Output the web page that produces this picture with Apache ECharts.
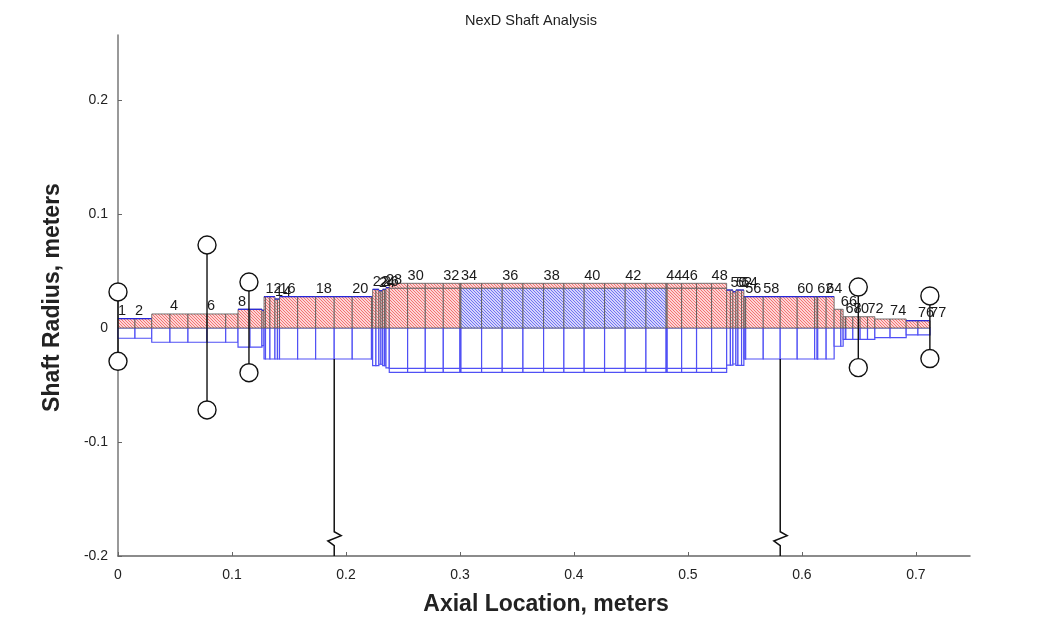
<!DOCTYPE html>
<html style="height: 100%">

<head>
    <meta charset="UTF-8">
    <script type="text/javascript" src="https://cdn.jsdelivr.net/npm/echarts@6.0.0/dist/echarts.min.js"></script>
</head>

<body style="height: 100%; margin: 0; background: #fff">
    <div id="container" style="width: 1062px; height: 626px"></div>

    <script type="text/javascript">
    // stations along the shaft, meters
    var stationX = [0, .0149, .0296, .0456, .0614, .0781, .0945, .1053, .1158, .1263,
        .1281, .1294, .1333, .1377, .1399, .1417, .1576, .1734, .1897, .2055,
        .2224, .2234, .2263, .2289, .2307, .2322, .2338, .2351, .2380, .2541,
        .2696, .2854, .3000, .3009, .3190, .3371, .3553, .3734, .3912, .4090,
        .4269, .4450, .4632, .4809, .4818, .4945, .5076, .5208, .5340, .5373,
        .5395, .5421, .5439, .5471, .5491, .5503, .5507, .5661, .5810, .5959,
        .6112, .6134, .6139, .6213, .6283, .6342, .6362, .6382, .6386, .6447,
        .6511, .6576, .6640, .6774, .6915, .7018, .7125];
    // radius of each element (element n runs from station n to n+1)
    var upperRadius = [.0082, .0082, .0123, .0123, .0123, .0123, .0123, .0164, .0164, .0155,
        .0275, .0275, .0275, .0254, .0254, .0275, .0275, .0275, .0275, .0275,
        .0275, .0339, .0339, .0327, .0327, .0339, .0339, .0354, .0348, .0348,
        .0348, .0348, .0348, .0348, .0348, .0348, .0348, .0348, .0348, .0348,
        .0348, .0348, .0348, .0348, .0348, .0348, .0348, .0348, .0333, .0333,
        .0318, .0333, .0333, .0333, .0275, .0275, .0275, .0275, .0275, .0275,
        .0275, .0275, .0275, .0275, .0164, .0164, .0099, .0099, .0099, .0099,
        .0099, .0099, .0079, .0079, .0064, .0064];
    var lowerRadius = [-.009, -.009, -.0125, -.0125, -.0125, -.0125, -.0125, -.0167, -.0167, -.0155,
        -.0272, -.0272, -.0272, -.0272, -.0272, -.0272, -.0272, -.0272, -.0272, -.0272,
        -.0272, -.033, -.033, -.0318, -.0318, -.033, -.033, -.0349, -.0354, -.0354,
        -.0354, -.0354, -.0354, -.0354, -.0354, -.0354, -.0354, -.0354, -.0354, -.0354,
        -.0354, -.0354, -.0354, -.0354, -.0354, -.0354, -.0354, -.0354, -.0325, -.0325,
        -.0316, -.0328, -.0328, -.0328, -.0272, -.0272, -.0272, -.0272, -.0272, -.0272,
        -.0272, -.0272, -.0272, -.0272, -.016, -.016, -.0099, -.0099, -.0099, -.0099,
        -.0099, -.0099, -.0085, -.0085, -.0061, -.0061];
    // rotor section, element numbers
    var sleeveElements = [29, 30, 31, 32, 33, 34, 35, 36, 37, 38, 39, 40, 41, 42, 43, 44, 45, 46, 47, 48];
    var sleeveUpper = .0392;
    var sleeveLower = -.0389;
    var secondMaterial = [34, 35, 36, 37, 38, 39, 40, 41, 42, 43];
    var blueTopElements = [1, 2, 8, 9, 10, 11, 12, 13, 14, 15, 16, 17, 18, 19, 20, 21, 22, 23, 24, 25, 26, 27, 28,
        49, 50, 51, 52, 53, 54, 55, 56, 57, 58, 59, 60, 61, 62, 63, 64, 75, 76];
    var stationLabels = [1, 2, 4, 6, 8, 12, 14, 16, 18, 20, 22, 24, 26, 28, 30, 32, 34, 36, 38, 40, 42,
        44, 46, 48, 50, 52, 54, 56, 58, 60, 62, 64, 66, 68, 70, 72, 74, 76, 77];
    // bearings
    var bearingX = [0, .0781, .1149, .6495, .7123];
    var bearingTop = [.0316, .0728, .0403, .0359, .0281];
    var bearingBottom = [-.0292, -.0719, -.0392, -.0348, -.0268];
    // ground supports with the break mark
    var supportX = [.1897, .5810];
    var supportTop = -.0272;
    var breakY = [-.1787, -.1822, -.1868, -.1909, -.2];
    var breakDx = [0, .0061, -.0056, 0, 0];
    var ticksX = [0, .1, .2, .3, .4, .5, .6, .7];
    var ticksY = [-.2, -.1, 0, .1, .2];

    function makeHatch(color) {
        var c = document.createElement('canvas');
        c.width = 3;
        c.height = 3;
        var ctx = c.getContext('2d');
        ctx.fillStyle = '#fff';
        ctx.fillRect(0, 0, 3, 3);
        ctx.strokeStyle = color;
        ctx.lineWidth = 1.1;
        ctx.beginPath();
        ctx.moveTo(-1, -1);
        ctx.lineTo(4, 4);
        ctx.moveTo(-1, 2);
        ctx.lineTo(1, 4);
        ctx.moveTo(2, -1);
        ctx.lineTo(4, 1);
        ctx.stroke();
        return { image: c, repeat: 'repeat' };
    }
    var redHatch = makeHatch('#f46c6c');
    var blueHatch = makeHatch('#6c6cf2');

    function box(api, x0, x1, y0, y1, style) {
        var a = api.coord([x0, y0]);
        var b = api.coord([x1, y1]);
        return {
            type: 'rect',
            shape: { x: a[0], y: Math.min(a[1], b[1]), width: b[0] - a[0], height: Math.abs(b[1] - a[1]) },
            style: style
        };
    }

    var elementIds = upperRadius.map(function (r, i) { return [i]; });
    var blueLine = { fill: '#fff', stroke: '#5050f5', lineWidth: 1.2 };
    var darkLine = '#555';

    var myChart = echarts.init(document.getElementById('container'));
    var option = {
        animation: false,
        textStyle: { fontFamily: 'Liberation Sans' },
        title: {
            text: 'NexD Shaft Analysis',
            left: 'center',
            top: 8,
            textStyle: { fontSize: 14.5, fontWeight: 'normal', color: '#222', fontFamily: 'Liberation Sans' }
        },
        grid: { left: 118, right: 92, top: 35, bottom: 70 },
        xAxis: {
            type: 'value',
            min: 0,
            max: .7475,
            name: 'Axial Location, meters',
            nameLocation: 'middle',
            nameGap: 37,
            nameTextStyle: { fontSize: 23, fontWeight: 'bold', color: '#222', padding: [0, 0, 0, 4] },
            splitLine: { show: false },
            axisLine: { onZero: false, lineStyle: { color: '#666', width: 1.5 } },
            axisTick: { inside: true, length: 4, customValues: ticksX, lineStyle: { color: '#666' } },
            axisLabel: { fontSize: 14, color: '#222', margin: 12, customValues: ticksX }
        },
        yAxis: {
            type: 'value',
            min: -.2,
            max: .257,
            name: 'Shaft Radius, meters',
            nameLocation: 'middle',
            nameGap: 54,
            nameTextStyle: { fontSize: 23, fontWeight: 'bold', color: '#222', padding: [0, 4, 0, 0] },
            splitLine: { show: false },
            axisLine: { onZero: false, lineStyle: { color: '#777', width: 1.5 } },
            axisTick: { inside: true, length: 4, customValues: ticksY, lineStyle: { color: '#666' } },
            axisLabel: { fontSize: 14, color: '#222', margin: 10, customValues: ticksY }
        },
        series: [
            {
                // lower half, plain blue outline
                type: 'custom',
                silent: true,
                data: elementIds,
                renderItem: function (params, api) {
                    var i = api.value(0);
                    var children = [];
                    if (sleeveElements.indexOf(i + 1) >= 0) {
                        children.push(box(api, stationX[i], stationX[i + 1], lowerRadius[i], sleeveLower, blueLine));
                    }
                    children.push(box(api, stationX[i], stationX[i + 1], 0, lowerRadius[i], blueLine));
                    return { type: 'group', children: children };
                }
            },
            {
                // upper half, hatched
                type: 'custom',
                silent: true,
                data: elementIds,
                renderItem: function (params, api) {
                    var i = api.value(0);
                    var n = i + 1;
                    var children = [];
                    if (sleeveElements.indexOf(n) >= 0) {
                        children.push(box(api, stationX[i], stationX[i + 1], upperRadius[i], sleeveUpper, {
                            fill: redHatch, stroke: darkLine, lineWidth: .8
                        }));
                    }
                    children.push(box(api, stationX[i], stationX[i + 1], 0, upperRadius[i], {
                        fill: secondMaterial.indexOf(n) >= 0 ? blueHatch : redHatch,
                        stroke: darkLine,
                        lineWidth: .8
                    }));
                    if (blueTopElements.indexOf(n) >= 0) {
                        var a = api.coord([stationX[i], upperRadius[i]]);
                        var b = api.coord([stationX[i + 1], upperRadius[i]]);
                        children.push({
                            type: 'line',
                            shape: { x1: a[0], y1: a[1], x2: b[0], y2: b[1] },
                            style: { stroke: '#2222e0', lineWidth: 1.2 }
                        });
                    }
                    return { type: 'group', children: children };
                }
            },
            {
                // ground supports
                type: 'custom',
                silent: true,
                data: supportX.map(function (x, i) { return [i]; }),
                renderItem: function (params, api) {
                    var x = supportX[api.value(0)];
                    var points = [api.coord([x, supportTop])];
                    for (var k = 0; k < breakY.length; k++) {
                        points.push(api.coord([x + breakDx[k], breakY[k]]));
                    }
                    return {
                        type: 'polyline',
                        shape: { points: points },
                        style: { fill: 'none', stroke: '#111', lineWidth: 1.5 }
                    };
                }
            },
            {
                // bearings, a line and two circles
                type: 'custom',
                silent: true,
                clip: false,
                data: bearingX.map(function (x, i) { return [i]; }),
                renderItem: function (params, api) {
                    var i = api.value(0);
                    var top = api.coord([bearingX[i], bearingTop[i]]);
                    var bottom = api.coord([bearingX[i], bearingBottom[i]]);
                    var circle = { fill: '#fff', stroke: '#111', lineWidth: 1.4 };
                    return {
                        type: 'group',
                        children: [
                            {
                                type: 'line',
                                shape: { x1: top[0], y1: top[1], x2: bottom[0], y2: bottom[1] },
                                style: { stroke: '#111', lineWidth: 1.4 }
                            },
                            { type: 'circle', shape: { cx: top[0], cy: top[1], r: 9 }, style: circle },
                            { type: 'circle', shape: { cx: bottom[0], cy: bottom[1], r: 9 }, style: circle }
                        ]
                    };
                }
            },
            {
                // station numbers, left edge on the station
                type: 'custom',
                silent: true,
                clip: false,
                data: stationLabels.map(function (s) { return [s]; }),
                renderItem: function (params, api) {
                    var s = api.value(0);
                    var i = Math.min(s - 1, upperRadius.length - 1);
                    var r = sleeveElements.indexOf(i + 1) >= 0 ? sleeveUpper : upperRadius[i];
                    var p = api.coord([stationX[s - 1], r]);
                    return {
                        type: 'text',
                        x: p[0],
                        y: p[1],
                        style: {
                            text: String(s),
                            fill: '#1a1a1a',
                            fontSize: 14.5,
                            fontFamily: 'Liberation Sans',
                            textAlign: 'left',
                            textVerticalAlign: 'bottom'
                        }
                    };
                }
            }
        ]
    };
    myChart.setOption(option);
    </script>
</body>

</html>
